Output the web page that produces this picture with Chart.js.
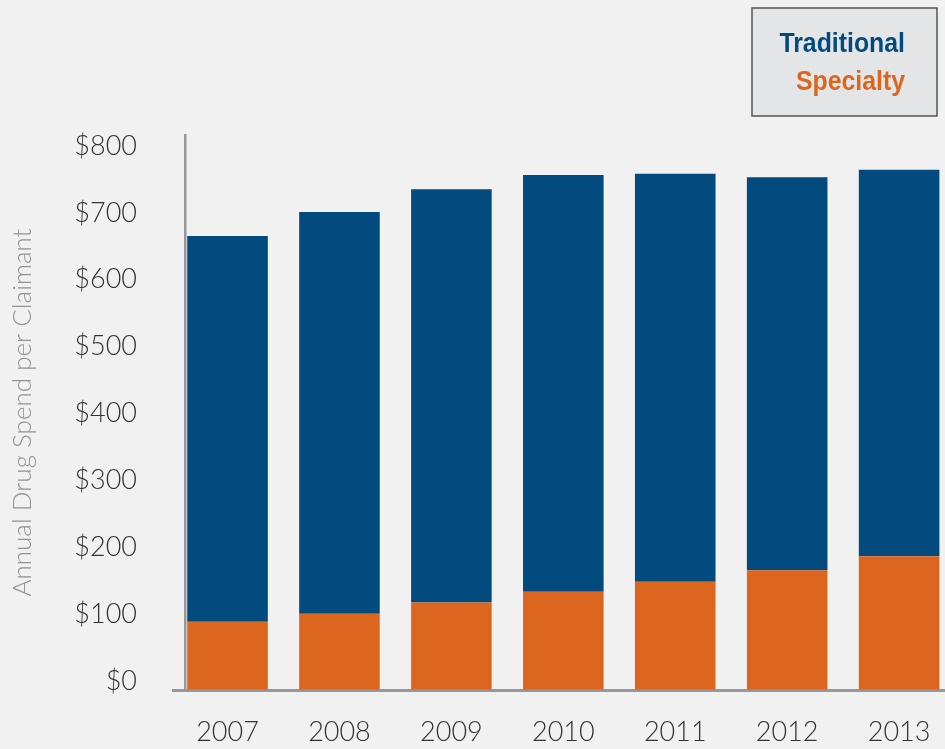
<!DOCTYPE html>
<html>
<head>
<meta charset="utf-8">
<script src="https://cdn.jsdelivr.net/npm/chart.js@4"></script>
<style>
  html, body { margin: 0; padding: 0; background: #f1f1f1; overflow: hidden; }
  #wrap { width: 945px; height: 749px; }
  canvas { display: block; background: #f1f1f1; }
</style>
</head>
<body>
<div id="wrap"><canvas id="c" width="945" height="749"></canvas></div>
<script>
// ---- data ----
const years = [2007, 2008, 2009, 2010, 2011, 2012, 2013];
const specialty = [102, 114, 131, 147, 162, 179, 200];
const traditional = [577, 601, 618, 623, 610, 588, 578];
const yTicks = [0, 100, 200, 300, 400, 500, 600, 700, 800];
const seriesNames = ['Specialty', 'Traditional'];
const yTitle = 'Annual Drug Spend per Claimant';

const NAVY = '#034a7f';
const ORANGE = '#dc661f';
const AXIS = '#98989b';
const TXT = '#333333';

const legendBox = {
  id: 'legendBox',
  afterDraw(chart) {
    const ctx = chart.ctx;
    const left = 752, right = 937, top = 8, bottom = 116;
    ctx.save();
    ctx.fillStyle = '#e4e5e6';
    ctx.fillRect(left, top, right - left, bottom - top);
    ctx.strokeStyle = '#555555';
    ctx.lineWidth = 1.5;
    ctx.strokeRect(left, top, right - left, bottom - top);
    ctx.font = 'bold 27px "Liberation Sans Narrow", "Liberation Sans", sans-serif';
    ctx.textAlign = 'right';
    ctx.textBaseline = 'alphabetic';
    const ds = chart.data.datasets.slice().reverse();
    ds.forEach((d, i) => {
      ctx.save();
      ctx.translate(905, 52 + i * 38);
      ctx.scale(0.92, 1);
      ctx.fillStyle = d.backgroundColor;
      ctx.fillText(d.label, 0, 0);
      ctx.restore();
    });
    // small stub of the x-axis line to the left of the y-axis
    const ca = chart.chartArea;
    ctx.strokeStyle = AXIS;
    ctx.lineWidth = 3;
    ctx.beginPath();
    ctx.moveTo(ca.left - 13, ca.bottom + 0.5);
    ctx.lineTo(ca.left, ca.bottom + 0.5);
    ctx.stroke();
    ctx.restore();
  }
};

new Chart(document.getElementById('c'), {
  type: 'bar',
  data: {
    datasets: [
      { label: seriesNames[0], data: years.map((y, i) => ({ x: y, y: specialty[i] })), backgroundColor: ORANGE },
      { label: seriesNames[1], data: years.map((y, i) => ({ x: y, y: traditional[i] })), backgroundColor: NAVY }
    ]
  },
  options: {
    responsive: false,
    animation: false,
    devicePixelRatio: 1,
    layout: { padding: { top: 135, left: 0, right: 0, bottom: 0 } },
    categoryPercentage: 0.9,
    barPercentage: 0.80,
    plugins: { legend: { display: false }, tooltip: { enabled: false } },
    scales: {
      x: {
        type: 'linear',
        stacked: true,
        min: 2006.62,
        max: 2013.41,
        offset: false,
        grid: { display: true, drawOnChartArea: false, drawTicks: true, tickLength: 26, tickColor: 'rgba(0,0,0,0)', color: 'rgba(0,0,0,0)' },
        border: { display: true, color: AXIS, width: 3 },
        afterBuildTicks: s => { s.ticks = years.map(v => ({ value: v })); },
        afterFit: s => { s.height = 59; },
        ticks: {
          color: TXT,
          font: { family: 'Lato', size: 27, weight: '300' },
          padding: 0,
          autoSkip: false,
          maxRotation: 0,
          callback: v => String(v)
        }
      },
      y: {
        stacked: true,
        min: 0,
        max: 830,
        grid: { display: true, drawOnChartArea: false, drawTicks: true, tickLength: 48, tickColor: 'rgba(0,0,0,0)', color: 'rgba(0,0,0,0)' },
        border: { display: true, color: AXIS, width: 2.5 },
        afterBuildTicks: s => { s.ticks = yTicks.map(v => ({ value: v })); },
        afterFit: s => { s.width = 185; },
        ticks: {
          color: TXT,
          font: { family: 'Lato', size: 27, weight: '300' },
          padding: 0,
          labelOffset: -9,
          callback: v => '$' + v
        },
        title: {
          display: true,
          text: yTitle,
          color: '#939393',
          font: { family: 'Lato', size: 26, weight: '300' },
          padding: { top: 7, bottom: 0 }
        }
      }
    }
  },
  plugins: [legendBox]
});
</script>
</body>
</html>
